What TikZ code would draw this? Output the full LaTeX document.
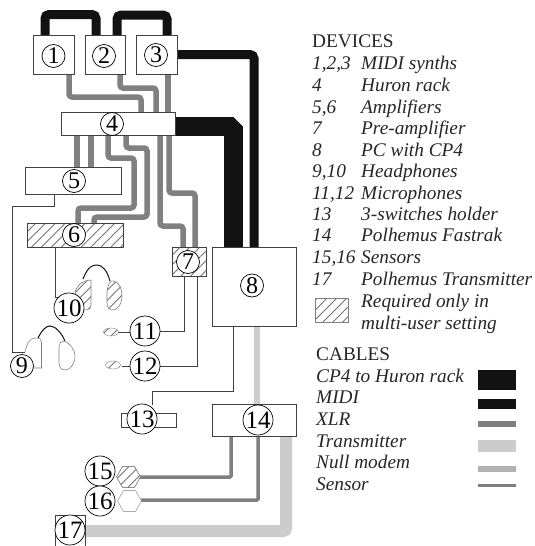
\documentclass[tikz,border=0pt]{standalone}
\usepackage{fontspec}
\setmainfont{Liberation Serif}
\usetikzlibrary{shapes.geometric,patterns,patterns.meta}
\definecolor{cblack}{gray}{0.07}
\definecolor{cxlr}{gray}{0.5}
\definecolor{ctrans}{gray}{0.8}
\definecolor{cbox}{gray}{0.25}
\tikzset{
  wide hatch/.style={pattern={Lines[angle=45,distance=7pt,line width=0.9pt]},pattern color=black!55},
  devbox/.style={draw=cbox,line width=0.5pt,fill=white,inner sep=0pt},
  hatchbox/.style={draw=cbox,line width=0.5pt,inner sep=0pt,wide hatch},
  num/.style={circle,draw=black,line width=0.7pt,fill=white,minimum size=23pt,inner sep=0pt,font=\fontsize{24}{24}\selectfont},
  numw/.style={num,minimum size=30pt,font=\fontsize{25}{25}\selectfont},
  midi/.style={draw=cblack,line width=9pt,rounded corners=4pt},
  cp/.style={draw=cblack,line width=19pt,line join=bevel},
  xlr/.style={draw=cxlr,line width=5.5pt,rounded corners=3pt},
  trans/.style={draw=ctrans,line width=6pt},
  transw/.style={draw=ctrans,line width=12pt,rounded corners=3pt},
  sensor/.style={draw=cxlr,line width=3.5pt,rounded corners=1pt},
  thinl/.style={draw=cbox,line width=0.6pt},
  leg/.style={anchor=base west,inner sep=0pt,text=black!85,font=\fontsize{19.3}{19.3}\selectfont},
  legi/.style={leg,font=\fontsize{19.3}{19.3}\selectfont\itshape},
  cup/.style={draw=gray,line width=0.6pt,fill=white},
  hcup/.style={draw=gray,line width=0.6pt,wide hatch},
}
\begin{document}
\begin{tikzpicture}[x=1pt,y=-1pt]
\useasboundingbox (0,0) rectangle (535,546);
\fill[white] (0,0) rectangle (535,546);
% cables behind boxes
\path[midi] (45,37) -- (45,14.5) -- (96,14.5) -- (96,37);
\path[midi] (117,37) -- (117,15) -- (167,15) -- (167,37);
\path[midi] (175,54.5) -- (254,54.5) -- (254,249);
\path[cp] (173,126) -- (233,126) -- (233,249);
\path[xlr] (69,72) -- (69,97) -- (141,97) -- (141,114);
\path[xlr] (120,72) -- (120,88) -- (156,88) -- (156,114);
\path[xlr] (168,72) -- (168,114);
\path[xlr] (77,133) -- (77,169);
\path[xlr] (91,133) -- (91,169);
\path[xlr] (108,133) -- (108,158) -- (134,158) -- (134,208) -- (78,208) -- (78,225);
\path[xlr] (126,133) -- (126,148) -- (147,148) -- (147,217) -- (94,217) -- (94,225);
\path[xlr] (160,133) -- (160,226) -- (183,226) -- (183,249);
\path[xlr] (169,133) -- (169,193) -- (195,193) -- (195,249);
\path[trans] (256.5,324) -- (256.5,406);
\path[transw] (286,434) -- (286,531) -- (83,531);
\path[sensor] (231,434) -- (231,477) -- (139,477);
\path[sensor] (258,434) -- (258,500) -- (141,500);
% thin connectors
\path[thinl] (54,194) -- (54,206) -- (12,206) -- (12,352) -- (25,352);
\path[thinl] (55,247) -- (55,297) -- (60,297);
\path[thinl] (184,276) -- (184,331.5) -- (160,331.5);
\path[thinl] (197,276) -- (197,366) -- (160,366);
\path[thinl] (233,326) -- (233,391) -- (152,391) -- (152,405);
\path[thinl] (118,332) -- (130,332);
\path[thinl] (122,366) -- (130,366);
% boxes
\node[devbox,minimum width=40.5pt,minimum height=39pt] (box1) at (53.5,54.5) {};
\node[devbox,minimum width=40.5pt,minimum height=39pt] (box2) at (105,54.5) {};
\node[devbox,minimum width=40.5pt,minimum height=39pt] (box3) at (156.5,54.5) {};
\node[devbox,minimum width=114pt,minimum height=23pt] (box4) at (118,123.5) {};
\node[devbox,minimum width=96pt,minimum height=27pt] (box5) at (73,180.5) {};
\node[devbox,minimum width=96pt,minimum height=24pt] (box6w) at (75,235) {};
\node[hatchbox,minimum width=96pt,minimum height=24pt] (box6) at (75,235) {};
\node[devbox,minimum width=34pt,minimum height=29pt] (box7w) at (189,261.5) {};
\node[hatchbox,minimum width=34pt,minimum height=29pt] (box7) at (189,261.5) {};
\node[devbox,minimum width=84pt,minimum height=79.5pt] (box8) at (254.5,286.5) {};
\node[devbox,minimum width=55pt,minimum height=14pt] (box13) at (149,420) {};
\node[devbox,minimum width=84pt,minimum height=32.5pt] (box14) at (254.5,420.2) {};
\node[devbox,minimum width=30pt,minimum height=31pt] (box17) at (70,530.5) {};
% small parts
\node[ellipse,draw=gray,minimum width=15pt,minimum height=8pt,inner sep=0pt,wide hatch] (mic11) at (111,332) {};
\node[ellipse,draw=gray,minimum width=15pt,minimum height=8pt,inner sep=0pt,wide hatch] (mic12) at (113,365) {};
\node[regular polygon,regular polygon sides=6,draw=gray,minimum size=24pt,inner sep=0pt,fill=white] (s15w) at (128.5,477) {};
\node[regular polygon,regular polygon sides=6,draw=gray,minimum size=24pt,inner sep=0pt,wide hatch] (s15) at (128.5,477) {};
\node[regular polygon,regular polygon sides=6,draw=gray,minimum size=24pt,inner sep=0pt,fill=white] (s16) at (129.5,501) {};
% headphones
\draw[cblack,line width=1pt] (83,279) .. controls (88,266) and (93,265) .. (97,265) .. controls (102,265) and (107,270) .. (110,281);
\draw[hcup] (75,292) .. controls (78,283) and (85,280) .. (91,280) -- (91,305) .. controls (91,309) and (88,310) .. (84,310) -- cycle;
\draw[hcup] (107,292) .. controls (108,284) and (110,280) .. (114,281) .. controls (120,283) and (122,290) .. (122,296) .. controls (122,304) and (117,311) .. (112,310) .. controls (109,310) and (107,307) .. (107,303) -- cycle;
\draw[cblack,line width=1pt] (38,338) .. controls (42,330) and (46,326) .. (50,326) .. controls (56,326) and (62,334) .. (65,341);
\draw[cup] (25,352) .. controls (27,343) and (30,338) .. (35,338) .. controls (40,338) and (41.5,339) .. (41.5,342) -- (41.5,368) -- (33,368);
\draw[cup] (59,348) .. controls (59,343) and (61,341) .. (64,341) .. controls (70,343) and (75,350) .. (75,356) .. controls (75,364) and (70,370) .. (65,370) .. controls (61,370) and (59,367) .. (59,362) -- cycle;
% numbers
\node[num] (n1) at (53.5,56) {1};
\node[num] (n2) at (104,56) {2};
\node[num] (n3) at (156,55) {3};
\node[num] (n4) at (112,124) {4};
\node[num] (n5) at (74,181) {5};
\node[num] (n6) at (74,235) {6};
\node[num] (n7) at (188,262) {7};
\node[num] (n8) at (252,285.5) {8};
\node[numw] (n10) at (69,308) {10};
\node[numw] (n11) at (145,331) {11};
\node[numw] (n12) at (145,366) {12};
\node[num] (n9) at (22,366) {9};
\node[numw] (n13) at (142,419) {13};
\node[numw] (n14) at (258,420) {14};
\node[numw] (n15) at (100,471) {15};
\node[numw] (n16) at (100,501) {16};
\node[numw] (n17) at (70,530) {17};
% legend
\node[leg] (ldev) at (312,47) {DEVICES};
\foreach \y/\a/\b in {69/{1,2,3}/MIDI synths,91/4/Huron rack,113/{5,6}/Amplifiers,134/7/Pre-amplifier,156/8/PC with CP4,177/{9,10}/Headphones,199/{11,12}/Microphones,220/13/3-switches holder,241/14/Polhemus Fastrak,263/{15,16}/Sensors,285/17/Polhemus Transmitter}{
  \node[legi] at (312,\y) {\a};
  \node[legi] at (361,\y) {\b};
}
\node[hatchbox,draw=gray,minimum width=33pt,minimum height=24pt] (lhatch) at (332,310) {};
\node[legi] at (361,307) {Required only in};
\node[legi] at (361,329) {multi-user setting};
\node[leg] at (316,360) {CABLES};
\foreach \y/\t in {382/CP4 to Huron rack,403/MIDI,425/XLR,447/Transmitter,468/Null modem,490/Sensor}{
  \node[legi] at (316,\y) {\t};
}
\fill[cblack] (478,370) rectangle (516,390);
\fill[cblack] (478,399) rectangle (516,409);
\fill[cxlr] (478,421) rectangle (516,427);
\fill[ctrans] (478,440) rectangle (516,452);
\fill[black!30] (478,466) rectangle (516,472);
\fill[cxlr] (478,484) rectangle (516,487);
\end{tikzpicture}
\end{document}
